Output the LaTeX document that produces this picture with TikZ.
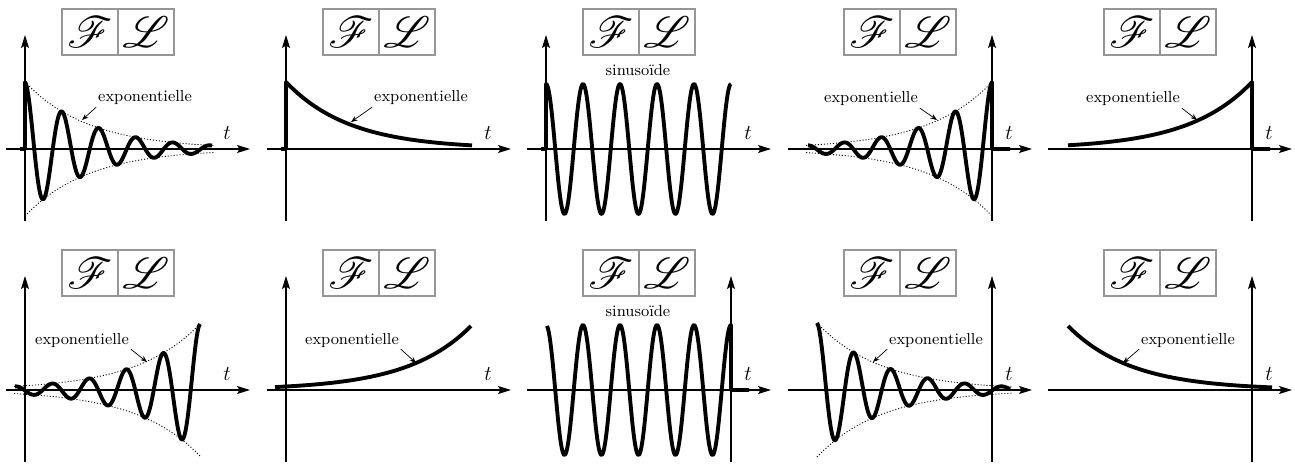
\documentclass[tikz,border=0pt]{standalone}
\usepackage{amsmath}
\usepackage{mathrsfs}
\usepackage{xcolor}
\definecolor{cadregris}{RGB}{150,150,150}
\usepackage{tikz}
\usetikzlibrary{arrows.meta, positioning}

\tikzset{
  axe/.style={line width=0.6pt, -{Stealth[length=2.6mm, width=1.6mm, inset=0.5mm]}},
  courbe/.style={line width=2.2pt, line join=round},
  enveloppe/.style={line width=0.5pt, dash pattern=on 0.6pt off 1.1pt},
  etiquette/.style={font=\fontsize{9.1}{11}\selectfont, inner sep=1pt},
  fleche/.style={line width=0.4pt, -{Stealth[length=1.3mm, width=1mm]}},
  cadre/.style={draw=cadregris, line width=0.6pt, minimum width=1.12cm, minimum height=0.92cm, inner sep=0pt, font=\Huge},
  tlabel/.style={font=\fontsize{13}{15}\selectfont, inner sep=0pt},
}

\begin{document}
\begin{tikzpicture}[x=0.02cm, y=0.02cm]
  \useasboundingbox (0,0) rectangle (1295,468);

  % --- Panel 1: damped oscillation, axis on the left ---
  \begin{scope}[shift={(62,319)}]
    \node[cadre] (F1) at (28,117) {$\mathscr{F}$};
    \node[cadre, right=-0.6pt of F1] (L1) {$\mathscr{L}$};
    \draw[axe] (-56,0) -- (188,0);
    \draw[axe] (-37,-72) -- (-37,114);
    \node[tlabel] (t1) at (165,16) {$t$};
    \draw[enveloppe] plot[domain=-37:152, samples=60] (\x,{67*exp(-0.0157*(\x+37))});
    \draw[enveloppe] plot[domain=-37:152, samples=60] (\x,{-67*exp(-0.0157*(\x+37))});
    \draw[courbe] (-42,0) -- (-37,0) -- (-37,67) -- plot[domain=-37:150, samples=220] (\x,{67*exp(-0.0157*(\x+37))*cos(9.7297*(\x+37))});
    \node[etiquette] (expo1) at (83,51) {exponentielle};
    \coordinate (c1) at (20,29);
    \draw[fleche] (expo1.south west) -- (c1);
  \end{scope}

  % --- Panel 2: decaying exponential ---
  \begin{scope}[shift={(323,319)}]
    \node[cadre] (F2) at (28,117) {$\mathscr{F}$};
    \node[cadre, right=-0.6pt of F2] (L2) {$\mathscr{L}$};
    \draw[axe] (-56,0) -- (188,0);
    \draw[axe] (-37,-72) -- (-37,114);
    \node[tlabel] (t2) at (165,16) {$t$};
    \draw[courbe] (-42,0) -- (-37,0) -- (-37,67) -- plot[domain=-37:149, samples=80] (\x,{67*exp(-0.0157*(\x+37))});
    \node[etiquette] (expo2) at (98,51) {exponentielle};
    \coordinate (c2) at (28,27);
    \draw[fleche] (expo2.south west) -- (c2);
  \end{scope}

  % --- Panel 3: sinusoid ---
  \begin{scope}[shift={(583,319)}]
    \node[cadre] (F3) at (28,117) {$\mathscr{F}$};
    \node[cadre, right=-0.6pt of F3] (L3) {$\mathscr{L}$};
    \draw[axe] (-56,0) -- (188,0);
    \draw[axe] (-37,-72) -- (-37,114);
    \node[tlabel] (t3) at (165,16) {$t$};
    \draw[courbe] (-42,0) -- (-37,0) -- (-37,65) -- plot[domain=-37:148, samples=220] (\x,{65*cos(9.7297*(\x+37))});
    \node[etiquette] (sinus3) at (55,79) {sinusoïde};
  \end{scope}

  % --- Panel 4: growing oscillation, axis on the right ---
  \begin{scope}[shift={(844,319)}]
    \node[cadre] (F4) at (28,117) {$\mathscr{F}$};
    \node[cadre, right=-0.6pt of F4] (L4) {$\mathscr{L}$};
    \draw[axe] (-56,0) -- (188,0);
    \draw[axe] (148,-72) -- (148,114);
    \node[tlabel] (t4) at (165,16) {$t$};
    \draw[enveloppe] plot[domain=-38:148, samples=60] (\x,{67*exp(0.0157*(\x-148))});
    \draw[enveloppe] plot[domain=-38:148, samples=60] (\x,{-67*exp(0.0157*(\x-148))});
    \draw[courbe] plot[domain=-36:148, samples=220] (\x,{67*exp(0.0157*(\x-148))*cos(9.7297*(\x-148))}) -- (148,0) -- (166,0);
    \node[etiquette] (expo4) at (27,50) {exponentielle};
    \coordinate (c4) at (93,29);
    \draw[fleche] (expo4.south east) -- (c4);
  \end{scope}

  % --- Panel 5: growing exponential, axis on the right ---
  \begin{scope}[shift={(1104,319)}]
    \node[cadre] (F5) at (28,117) {$\mathscr{F}$};
    \node[cadre, right=-0.6pt of F5] (L5) {$\mathscr{L}$};
    \draw[axe] (-56,0) -- (188,0);
    \draw[axe] (148,-72) -- (148,114);
    \node[tlabel] (t5) at (165,16) {$t$};
    \draw[courbe] plot[domain=-36:148, samples=80] (\x,{67*exp(0.0157*(\x-148))}) -- (148,0) -- (166,0);
    \node[etiquette] (expo5) at (29,50) {exponentielle};
    \coordinate (c5) at (93,29);
    \draw[fleche] (expo5.south east) -- (c5);
  \end{scope}

  % --- Panel 6: growing oscillation, axis on the left ---
  \begin{scope}[shift={(62,78)}]
    \node[cadre] (F6) at (28,117) {$\mathscr{F}$};
    \node[cadre, right=-0.6pt of F6] (L6) {$\mathscr{L}$};
    \draw[axe] (-56,0) -- (188,0);
    \draw[axe] (-37,-72) -- (-37,114);
    \node[tlabel] (t6) at (165,16) {$t$};
    \draw[enveloppe] plot[domain=-48:138, samples=60] (\x,{66*exp(0.0157*(\x-138))});
    \draw[enveloppe] plot[domain=-48:138, samples=60] (\x,{-66*exp(0.0157*(\x-138))});
    \draw[courbe] plot[domain=-47:138, samples=220] (\x,{66*exp(0.0157*(\x-138))*cos(9.7297*(\x-138))});
    \node[etiquette] (expo6) at (20,50) {exponentielle};
    \coordinate (c6) at (85,28);
    \draw[fleche] (expo6.south east) -- (c6);
  \end{scope}

  % --- Panel 7: growing exponential, axis on the left ---
  \begin{scope}[shift={(323,78)}]
    \node[cadre] (F7) at (28,117) {$\mathscr{F}$};
    \node[cadre, right=-0.6pt of F7] (L7) {$\mathscr{L}$};
    \draw[axe] (-56,0) -- (188,0);
    \draw[axe] (-37,-72) -- (-37,114);
    \node[tlabel] (t7) at (165,16) {$t$};
    \draw[courbe] plot[domain=-48:148, samples=80] (\x,{64*exp(0.0157*(\x-148))});
    \node[etiquette] (expo7) at (29,50) {exponentielle};
    \coordinate (c7) at (93,27);
    \draw[fleche] (expo7.south east) -- (c7);
  \end{scope}

  % --- Panel 8: sinusoid, axis on the right ---
  \begin{scope}[shift={(583,78)}]
    \node[cadre] (F8) at (28,117) {$\mathscr{F}$};
    \node[cadre, right=-0.6pt of F8] (L8) {$\mathscr{L}$};
    \draw[axe] (-56,0) -- (188,0);
    \draw[axe] (148,-72) -- (148,114);
    \node[tlabel] (t8) at (165,16) {$t$};
    \draw[courbe] plot[domain=-36:148, samples=220] (\x,{65*cos(9.7297*(\x-148))}) -- (148,0) -- (166,0);
    \node[etiquette] (sinus8) at (55,79) {sinusoïde};
  \end{scope}

  % --- Panel 9: damped oscillation, axis on the right ---
  \begin{scope}[shift={(844,78)}]
    \node[cadre] (F9) at (28,117) {$\mathscr{F}$};
    \node[cadre, right=-0.6pt of F9] (L9) {$\mathscr{L}$};
    \draw[axe] (-56,0) -- (188,0);
    \draw[axe] (148,-72) -- (148,114);
    \node[tlabel] (t9) at (165,16) {$t$};
    \draw[enveloppe] plot[domain=-27:168, samples=60] (\x,{67*exp(-0.0157*(\x+27))});
    \draw[enveloppe] plot[domain=-27:168, samples=60] (\x,{-67*exp(-0.0157*(\x+27))});
    \draw[courbe] plot[domain=-27:166, samples=220] (\x,{67*exp(-0.0157*(\x+27))*cos(9.7297*(\x+27))});
    \node[etiquette] (expo9) at (92,50) {exponentielle};
    \coordinate (c9) at (29,28);
    \draw[fleche] (expo9.south west) -- (c9);
  \end{scope}

  % --- Panel 10: decaying exponential, axis on the right ---
  \begin{scope}[shift={(1104,78)}]
    \node[cadre] (F10) at (28,117) {$\mathscr{F}$};
    \node[cadre, right=-0.6pt of F10] (L10) {$\mathscr{L}$};
    \draw[axe] (-56,0) -- (188,0);
    \draw[axe] (148,-72) -- (148,114);
    \node[tlabel] (t10) at (165,16) {$t$};
    \draw[courbe] plot[domain=-36:168, samples=80] (\x,{64*exp(-0.0157*(\x+36))});
    \node[etiquette] (expo10) at (84,50) {exponentielle};
    \coordinate (c10) at (19,27);
    \draw[fleche] (expo10.south west) -- (c10);
  \end{scope}
\end{tikzpicture}
\end{document}
